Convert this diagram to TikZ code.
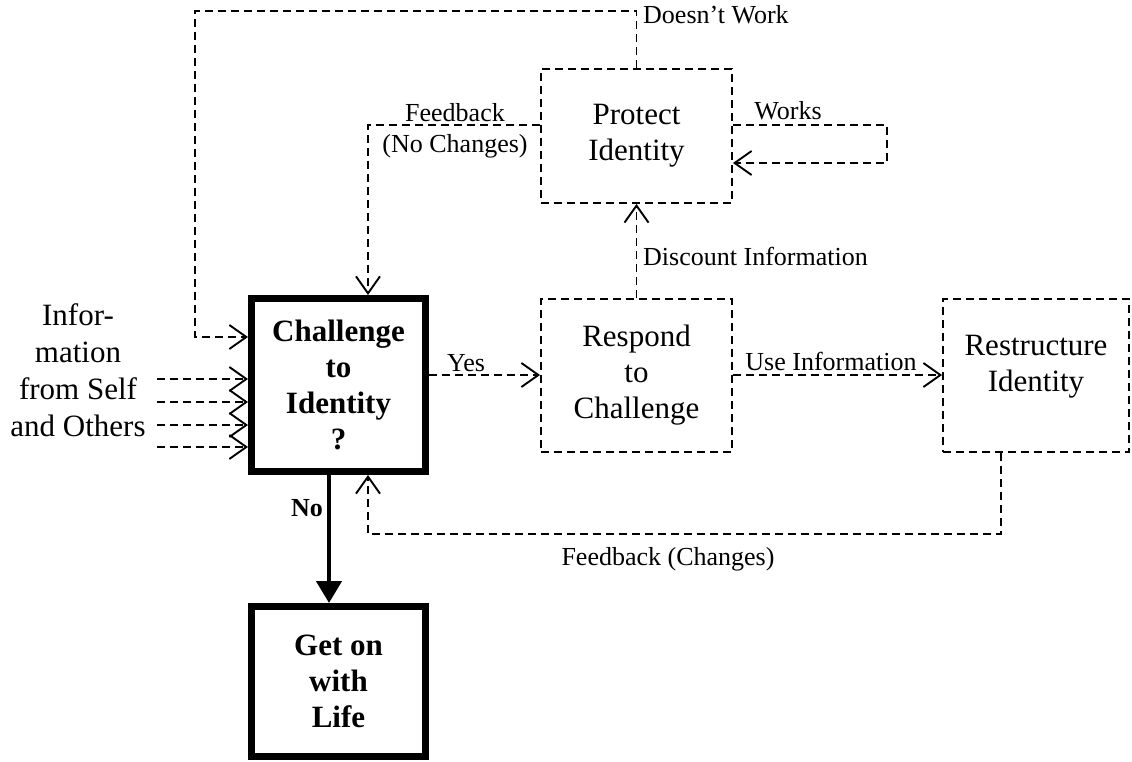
\documentclass[tikz,border=0pt]{standalone}
\usepackage{fontspec}
\setmainfont{Liberation Serif}
\usetikzlibrary{arrows.meta}
\begin{document}
\begin{tikzpicture}[x=1pt,y=-1pt,
  big/.style={font=\fontsize{31}{36}\selectfont, align=center, inner sep=0pt},
  thickbox/.style={draw, line width=7pt, inner sep=0pt, font=\fontsize{31}{36}\selectfont\bfseries, align=center},
  dbox/.style={draw, dash pattern=on 8pt off 5pt, line width=1.9pt, inner sep=0pt, font=\fontsize{31}{36}\selectfont, align=center},
  lab/.style={font=\fontsize{26}{30}\selectfont, inner sep=0pt},
  darrow/.style={dash pattern=on 8pt off 5pt, line width=1.9pt, -{Straight Barb[length=17pt,width=24pt]}},
  solidarrow/.style={line width=4.5pt, -{Triangle[length=22pt,width=25pt]}}
]
\useasboundingbox (0,0) rectangle (1132,762);

% boxes
\node[thickbox, minimum width=174pt, minimum height=173pt] (chal) at (338.5,385) {Challenge\\to\\Identity\\?};
\node[thickbox, minimum width=174pt, minimum height=150pt] (get) at (338.5,681.5) {Get on\\with\\Life};
\node[dbox, minimum width=191pt, minimum height=134pt] (protect) at (636.5,136) {Protect\\Identity};
\node[dbox, minimum width=191pt, minimum height=153pt] (respond) at (636.5,375.5) {Respond\\to\\Challenge};
\node[dbox, minimum width=186pt, minimum height=153pt] (restr) at (1036,375.5) {};
\node[big] (restrtext) at (1036,367) {Restructure\\Identity};
\node[big, font=\fontsize{31}{37}\selectfont] (info) at (78,370) {Infor-\\mation\\from Self\\and Others};

% top loop (Doesn't Work)
\coordinate (lpA) at (195,11);
\coordinate (lpB) at (195,337);
\draw[darrow] (protect.north) |- (lpA) -- (lpB) -- (chal.west |- lpB);

% feedback (no changes)
\coordinate (fbA) at (368,125);
\draw[darrow] (protect.west |- fbA) -- (fbA) -- (chal.north -| fbA);

% works loop
\coordinate (wkA) at (887,125);
\coordinate (wkB) at (887,163);
\draw[darrow] (protect.east |- wkA) -- (wkA) -- (wkB) -- (protect.east |- wkB);

% discount information
\draw[darrow] (respond.north) -- (protect.south);

% yes / use information
\coordinate (yy) at (480,375);
\draw[darrow] (chal.east |- yy) -- (respond.west |- yy);
\draw[darrow] (respond.east |- yy) -- (restr.west |- yy);

% feedback (changes)
\coordinate (fcA) at (1001,534);
\coordinate (fcB) at (368,534);
\draw[darrow] (restr.south -| fcA) -- (fcA) -- (fcB) -- (chal.south -| fcB);

% no
\coordinate (noA) at (329,500);
\draw[solidarrow] (chal.south -| noA) -- (get.north -| noA);

% inputs
\foreach \yv [count=\i] in {379,402,425,447} {
  \coordinate (in\i) at (157,\yv);
  \draw[darrow] (in\i) -- (chal.west |- in\i);
}

% labels
\node[lab, anchor=base west] (ldw) at (643,24) {Doesn’t Work};
\node[lab, anchor=base] (lworks) at (788,120) {Works};
\node[lab, anchor=base] (lfb1) at (455,122) {Feedback};
\node[lab, anchor=base] (lfb2) at (455,153) {(No Changes)};
\node[lab, anchor=base west] (ldisc) at (643,265) {Discount Information};
\node[lab, anchor=base] (lyes) at (466,371) {Yes};
\node[lab, anchor=base] (luse) at (831,370) {Use Information};
\node[lab, anchor=base] (lfc) at (668,565) {Feedback (Changes)};
\node[lab, font=\fontsize{26}{30}\selectfont\bfseries, anchor=base] (lno) at (307,516) {No};
\end{tikzpicture}
\end{document}
